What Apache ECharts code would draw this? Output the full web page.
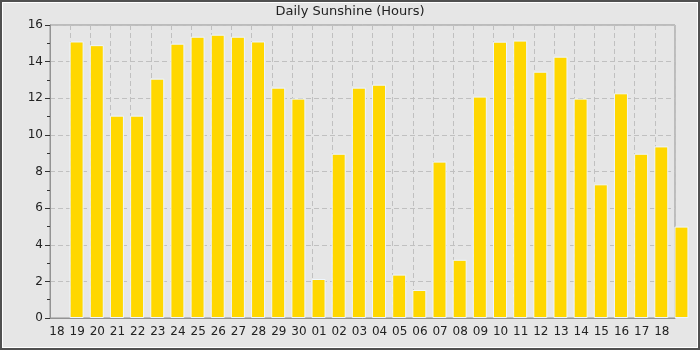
<!DOCTYPE html>
<html>
<head>
<meta charset="utf-8">
<script src="https://cdn.jsdelivr.net/npm/echarts@6/dist/echarts.min.js"></script>
<style>
  body{ margin:0; }
  .wrap{ position:relative; width:700px; height:350px; }
  #chart{ width:700px; height:350px; }
  .frame{
    position:absolute; left:0; top:0; width:700px; height:350px;
    box-sizing:border-box; border:2px solid #505050;
    box-shadow: inset 0 0 0 1px #fff;
    pointer-events:none;
  }
</style>
</head>
<body>
<div class="wrap">
  <div id="chart"></div>
  <div class="frame"></div>
</div>
<script>
// axis labels (one per day slot, from 18 to 18)
var dayLabels = ['18','19','20','21','22','23','24','25','26','27','28','29','30',
  '01','02','03','04','05','06','07','08','09','10','11','12','13','14','15','16','17','18'];
// days that have a bar (19 .. 19, last one spills past the plot edge)
var barDays = ['19','20','21','22','23','24','25','26','27','28','29','30',
  '01','02','03','04','05','06','07','08','09','10','11','12','13','14','15','16','17','18','19'];
// hours of sunshine
var sunshine = [15.1, 14.9, 11.05, 11.05, 13.07, 14.98, 15.36, 15.47, 15.36, 15.1, 12.58, 11.98,
  2.13, 8.97, 12.58, 12.74, 2.37, 1.53, 8.54, 3.18, 12.09, 15.09, 15.15, 13.45, 14.27, 11.98,
  7.3, 12.27, 8.97, 9.37, 4.99];

var font = 'DejaVu Sans';
var dashed = { show: true, lineStyle: { color: '#c0c0c0', type: [5, 3], width: 1 } };

// bar for day slot k sits a bit right of the day gridline
var barData = barDays.map(function (d, i) {
  return [i + 1 + 0.32, sunshine[i]];
});

var chart = echarts.init(document.getElementById('chart'));
var option = {
  backgroundColor: '#e6e6e6',
  animation: false,
  title: {
    text: 'Daily Sunshine (Hours)',
    left: 'center',
    top: 0,
    textStyle: { fontFamily: font, fontSize: 13, fontWeight: 'normal', color: '#222' }
  },
  grid: {
    left: 50, right: 25, top: 25, bottom: 32,
    show: true, borderColor: '#939393', borderWidth: 1, backgroundColor: '#e6e6e6'
  },
  xAxis: {
    type: 'value',
    min: 0, max: 31, interval: 1,
    axisLine: { show: true, lineStyle: { color: '#939393' } },
    axisTick: { show: false },
    splitLine: dashed,
    axisLabel: {
      fontFamily: font, fontSize: 12, color: '#222', margin: 8,
      showMaxLabel: true,
      padding: [0, 0, 0, 14],
      formatter: function (v) {
        var k = Math.round(v);
        return dayLabels[k] || '';
      }
    }
  },
  yAxis: {
    type: 'value',
    min: 0, max: 16, interval: 2,
    axisLine: { show: true, lineStyle: { color: '#939393' } },
    axisTick: { show: true, length: 5, lineStyle: { color: '#333' } },
    minorTick: { show: true, splitNumber: 2, length: 3, lineStyle: { color: '#333' } },
    splitLine: dashed,
    axisLabel: { fontFamily: font, fontSize: 12, color: '#222', margin: 7 }
  },
  series: [{
    type: 'bar',
    data: barData,
    barWidth: 14,
    clip: false,
    itemStyle: { color: '#ffd700', borderColor: '#eef6ff', borderWidth: 1 }
  }]
};
chart.setOption(option);
</script>
</body>
</html>
